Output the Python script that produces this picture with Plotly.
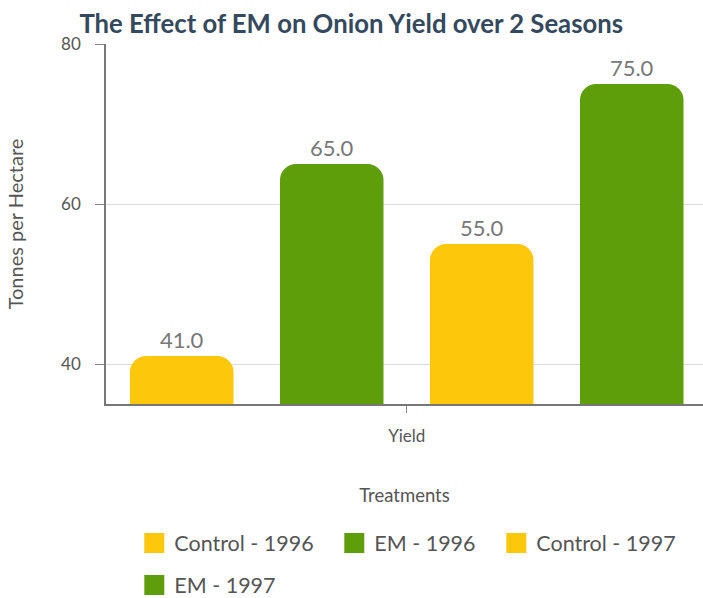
import plotly.graph_objects as go

categories = ["Yield"]
series_names = ["Control - 1996", "EM - 1996", "Control - 1997", "EM - 1997"]
series_values = [[41.0], [65.0], [55.0], [75.0]]
series_colors = ["#FDC70C", "#5E9E0A", "#FDC70C", "#5E9E0A"]
legend_ids = ["legend", "legend2", "legend3", "legend4"]

fig = go.Figure()
for name, vals, col in zip(series_names, series_values, series_colors):
    fig.add_trace(go.Bar(
        x=categories, y=vals, name=name, showlegend=False,
        marker=dict(color=col, line=dict(width=0)),
        texttemplate="%{y:.1f}", textposition="outside",
        textfont=dict(size=22, color="#777777", family="Lato"),
        cliponaxis=False,
    ))
# legend entries (larger square swatches, same names/colours as the bars)
for name, col, lg in zip(series_names, series_colors, legend_ids):
    fig.add_trace(go.Scatter(
        x=[None], y=[None], name=name, legend=lg, mode="markers",
        marker=dict(symbol="square", size=16, color=col, line=dict(color=col, width=4)),
        hoverinfo="skip",
    ))

legend_common = dict(orientation="h", xanchor="left", yanchor="middle",
                     font=dict(size=21.5, color="#555555", family="Lato"),
                     itemwidth=30, bgcolor="rgba(0,0,0,0)")

fig.update_layout(
    width=703, height=598,
    font=dict(family="Lato", color="#555555"),
    paper_bgcolor="white", plot_bgcolor="white",
    margin=dict(l=106, r=0, t=44, b=194, autoexpand=False),
    title=dict(text="<b>The Effect of EM on Onion Yield over 2 Seasons</b>",
               x=0.113, xanchor="left", y=0.96, yanchor="middle",
               font=dict(size=25.7, color="#34495E", family="Lato")),
    barmode="group", bargap=0.0, bargroupgap=0.31,
    barcornerradius=16,
    showlegend=True,
    legend=dict(x=0.0474, y=-0.386, **legend_common),
    legend2=dict(x=0.3824, y=-0.386, **legend_common),
    legend3=dict(x=0.6538, y=-0.386, **legend_common),
    legend4=dict(x=0.0474, y=-0.503, **legend_common),
)
fig.update_yaxes(range=[35, 80], tickvals=[40, 60, 80],
                 showgrid=True, gridcolor="#DDDDDD", gridwidth=1,
                 showline=True, linecolor="#777777", linewidth=1.5,
                 ticks="outside", ticklen=9, tickcolor="#888888",
                 ticklabelstandoff=11,
                 tickfont=dict(size=17, color="#555555"),
                 zeroline=False,
                 title=dict(text="Tonnes per Hectare", font=dict(size=20, color="#555555"), standoff=32))
fig.update_xaxes(range=[-0.50125, 0.49375],
                 showline=True, linecolor="#777777", linewidth=1.5,
                 ticks="outside", ticklen=7, tickcolor="#888888",
                 ticklabelstandoff=9,
                 tickfont=dict(size=17, color="#555555"),
                 title=dict(text="Treatments", font=dict(size=18.5, color="#555555"), standoff=44))

fig.write_html("out.html", config={"displayModeBar": False},
               post_script="document.body.style.margin='0';document.body.style.overflow='hidden';")
